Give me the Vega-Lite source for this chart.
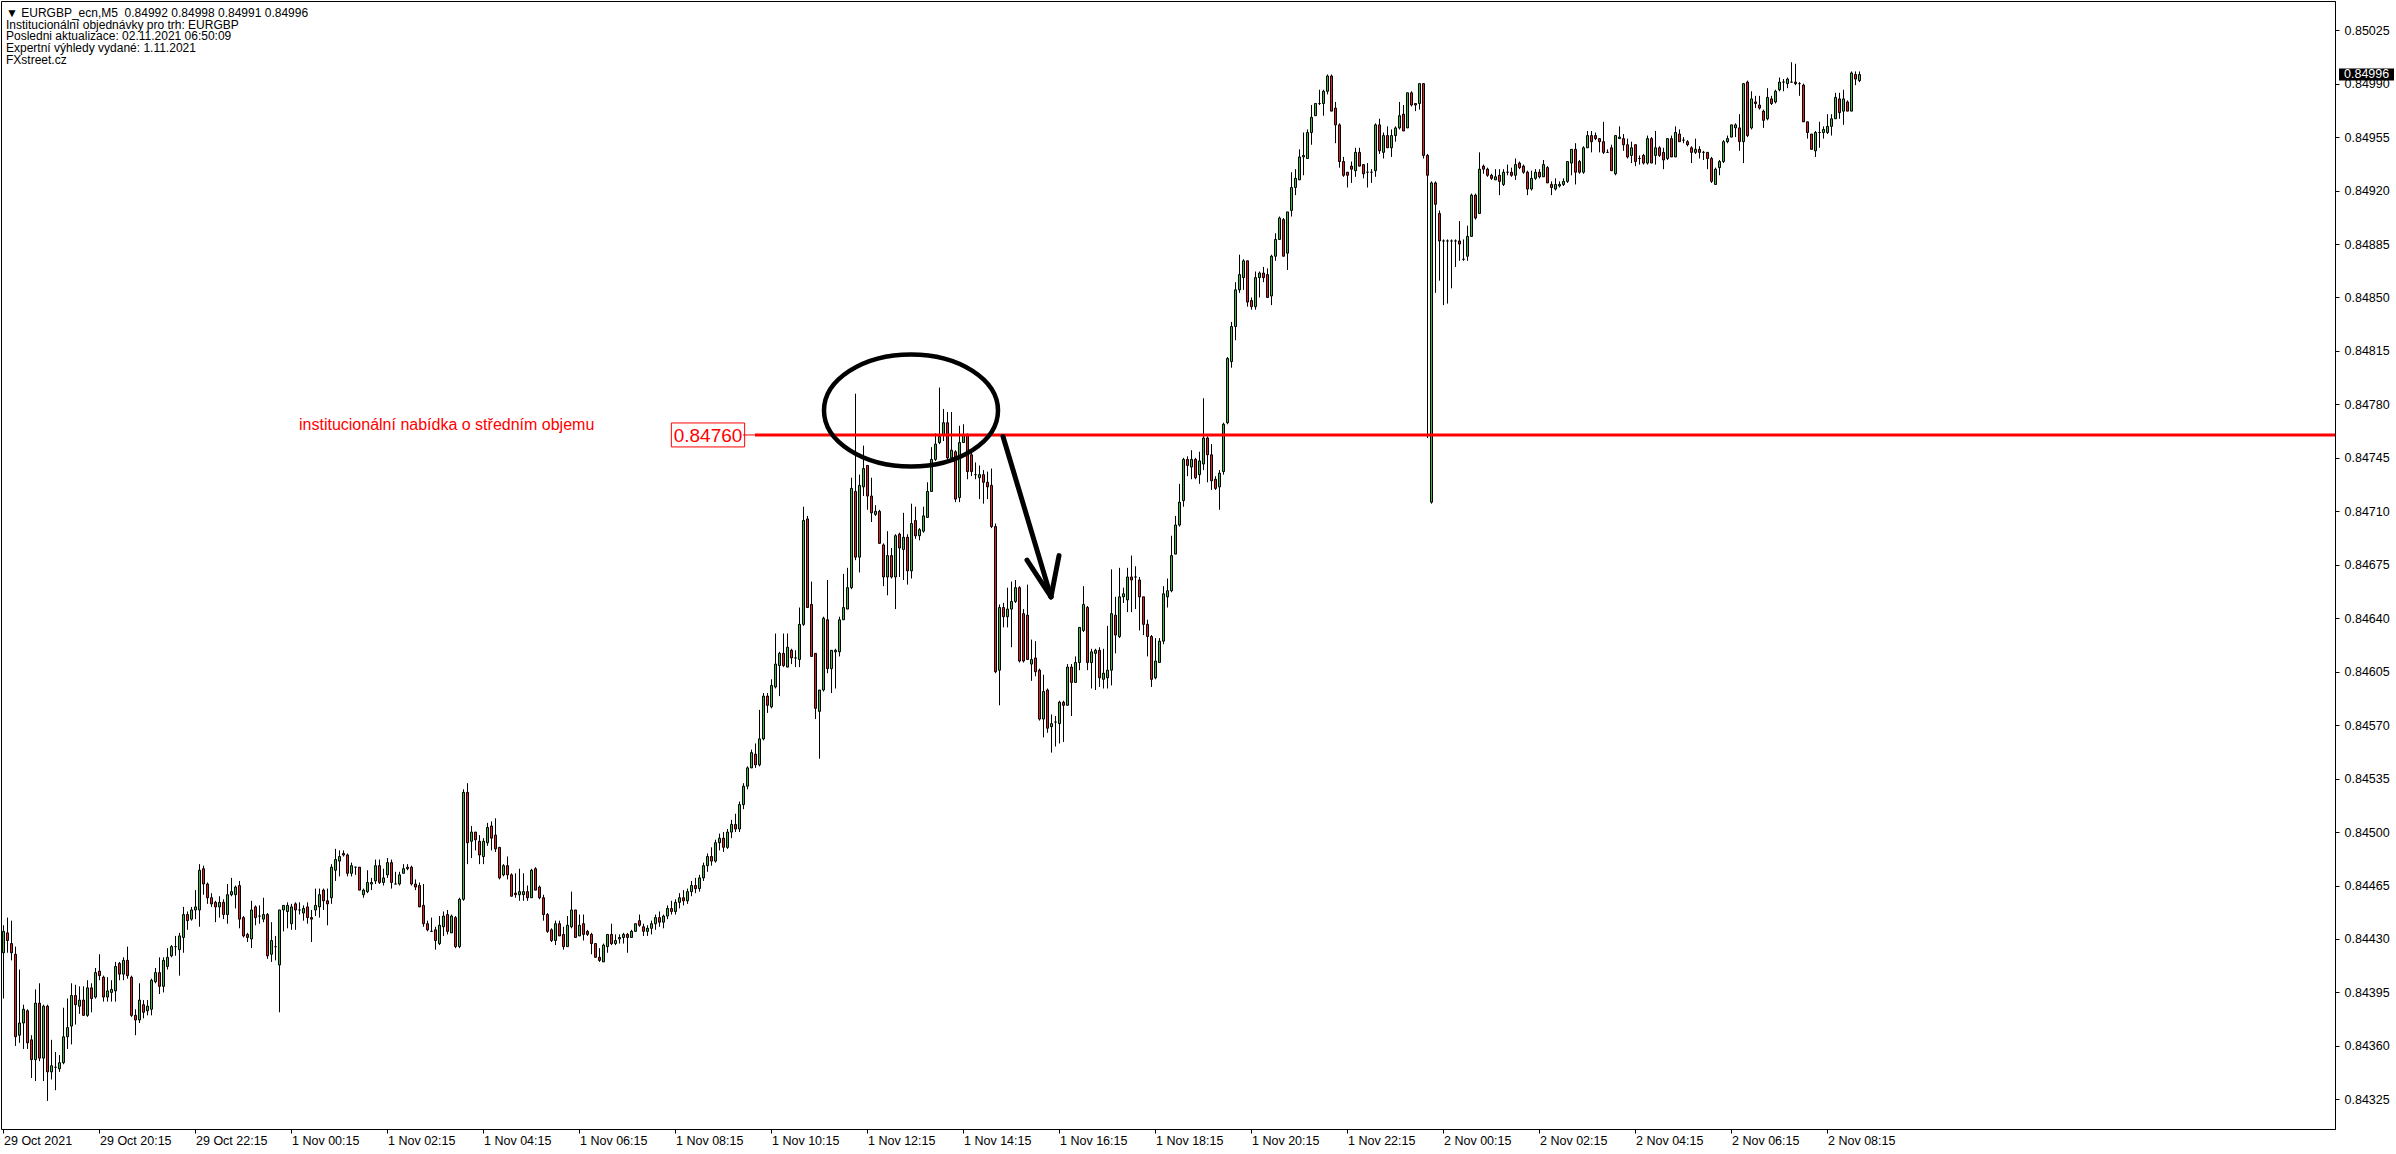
{
"$schema": "https://vega.github.io/schema/vega-lite/v6.json",
"width": 2334, "height": 1128, "autosize": "none",
"padding": {"left": 1, "top": 1, "right": 61, "bottom": 25},
"background": "white",
"config": {"view": {"stroke": "black", "strokeWidth": 1}},
"title": {"text": ["▼ EURGBP_ecn,M5\u00a0 0.84992 0.84998 0.84991 0.84996", "Institucionální objednávky pro trh: EURGBP", "Posledni aktualizace: 02.11.2021 06:50:09", "Expertní výhledy vydané: 1.11.2021", "FXstreet.cz"], "anchor": "start", "frame": "group", "orient": "top", "baseline": "top", "offset": -66, "dx": 5, "font": "Liberation Sans", "fontSize": 12, "fontWeight": "normal", "color": "black", "lineHeight": 11.8},
"datasets": {
"candles": [
{"t":"10-29 18:15","o":0.84421,"h":0.84439,"l":0.84391,"c":0.84435},
{"t":"10-29 18:20","o":0.84434,"h":0.84444,"l":0.84421,"c":0.84429},
{"t":"10-29 18:25","o":0.84427,"h":0.84442,"l":0.84416,"c":0.84421},
{"t":"10-29 18:30","o":0.84420,"h":0.84425,"l":0.84360,"c":0.84366},
{"t":"10-29 18:35","o":0.84367,"h":0.84410,"l":0.84362,"c":0.84375},
{"t":"10-29 18:40","o":0.84375,"h":0.84387,"l":0.84358,"c":0.84384},
{"t":"10-29 18:45","o":0.84383,"h":0.84384,"l":0.84358,"c":0.84362},
{"t":"10-29 18:50","o":0.84364,"h":0.84367,"l":0.84339,"c":0.84351},
{"t":"10-29 18:55","o":0.84351,"h":0.84397,"l":0.84337,"c":0.84388},
{"t":"10-29 19:00","o":0.84388,"h":0.84401,"l":0.84350,"c":0.84352},
{"t":"10-29 19:05","o":0.84352,"h":0.84387,"l":0.84337,"c":0.84386},
{"t":"10-29 19:10","o":0.84386,"h":0.84387,"l":0.84324,"c":0.84343},
{"t":"10-29 19:15","o":0.84343,"h":0.84364,"l":0.84338,"c":0.84347},
{"t":"10-29 19:20","o":0.84346,"h":0.84356,"l":0.84331,"c":0.84346},
{"t":"10-29 19:25","o":0.84345,"h":0.84354,"l":0.84343,"c":0.84349},
{"t":"10-29 19:30","o":0.84349,"h":0.84385,"l":0.84348,"c":0.84366},
{"t":"10-29 19:35","o":0.84366,"h":0.84391,"l":0.84358,"c":0.84372},
{"t":"10-29 19:40","o":0.84373,"h":0.84401,"l":0.84361,"c":0.84393},
{"t":"10-29 19:45","o":0.84393,"h":0.84400,"l":0.84374,"c":0.84387},
{"t":"10-29 19:50","o":0.84386,"h":0.84399,"l":0.84381,"c":0.84390},
{"t":"10-29 19:55","o":0.84390,"h":0.84399,"l":0.84380,"c":0.84380},
{"t":"10-29 20:00","o":0.84380,"h":0.84403,"l":0.84379,"c":0.84398},
{"t":"10-29 20:05","o":0.84398,"h":0.84401,"l":0.84382,"c":0.84391},
{"t":"10-29 20:10","o":0.84392,"h":0.84411,"l":0.84391,"c":0.84408},
{"t":"10-29 20:15","o":0.84409,"h":0.84420,"l":0.84403,"c":0.84406},
{"t":"10-29 20:20","o":0.84405,"h":0.84406,"l":0.84389,"c":0.84392},
{"t":"10-29 20:25","o":0.84392,"h":0.84405,"l":0.84389,"c":0.84396},
{"t":"10-29 20:30","o":0.84395,"h":0.84403,"l":0.84389,"c":0.84397},
{"t":"10-29 20:35","o":0.84396,"h":0.84415,"l":0.84389,"c":0.84412},
{"t":"10-29 20:40","o":0.84414,"h":0.84415,"l":0.84403,"c":0.84407},
{"t":"10-29 20:45","o":0.84407,"h":0.84418,"l":0.84403,"c":0.84416},
{"t":"10-29 20:50","o":0.84416,"h":0.84425,"l":0.84404,"c":0.84406},
{"t":"10-29 20:55","o":0.84405,"h":0.84406,"l":0.84379,"c":0.84380},
{"t":"10-29 21:00","o":0.84380,"h":0.84384,"l":0.84367,"c":0.84377},
{"t":"10-29 21:05","o":0.84377,"h":0.84401,"l":0.84375,"c":0.84390},
{"t":"10-29 21:10","o":0.84387,"h":0.84390,"l":0.84378,"c":0.84382},
{"t":"10-29 21:15","o":0.84383,"h":0.84390,"l":0.84380,"c":0.84386},
{"t":"10-29 21:20","o":0.84384,"h":0.84404,"l":0.84380,"c":0.84403},
{"t":"10-29 21:25","o":0.84402,"h":0.84411,"l":0.84401,"c":0.84408},
{"t":"10-29 21:30","o":0.84408,"h":0.84418,"l":0.84394,"c":0.84399},
{"t":"10-29 21:35","o":0.84399,"h":0.84418,"l":0.84395,"c":0.84416},
{"t":"10-29 21:40","o":0.84412,"h":0.84424,"l":0.84410,"c":0.84418},
{"t":"10-29 21:45","o":0.84419,"h":0.84426,"l":0.84418,"c":0.84425},
{"t":"10-29 21:50","o":0.84425,"h":0.84432,"l":0.84419,"c":0.84425},
{"t":"10-29 21:55","o":0.84423,"h":0.84434,"l":0.84406,"c":0.84432},
{"t":"10-29 22:00","o":0.84431,"h":0.84451,"l":0.84421,"c":0.84446},
{"t":"10-29 22:05","o":0.84446,"h":0.84448,"l":0.84436,"c":0.84442},
{"t":"10-29 22:10","o":0.84443,"h":0.84451,"l":0.84442,"c":0.84449},
{"t":"10-29 22:15","o":0.84449,"h":0.84462,"l":0.84443,"c":0.84451},
{"t":"10-29 22:20","o":0.84449,"h":0.84479,"l":0.84438,"c":0.84475},
{"t":"10-29 22:25","o":0.84476,"h":0.84478,"l":0.84459,"c":0.84466},
{"t":"10-29 22:30","o":0.84466,"h":0.84467,"l":0.84453,"c":0.84457},
{"t":"10-29 22:35","o":0.84457,"h":0.84460,"l":0.84451,"c":0.84453},
{"t":"10-29 22:40","o":0.84454,"h":0.84455,"l":0.84441,"c":0.84451},
{"t":"10-29 22:45","o":0.84451,"h":0.84458,"l":0.84444,"c":0.84454},
{"t":"10-29 22:50","o":0.84454,"h":0.84456,"l":0.84443,"c":0.84446},
{"t":"10-29 22:55","o":0.84446,"h":0.84466,"l":0.84440,"c":0.84459},
{"t":"10-29 23:00","o":0.84459,"h":0.84470,"l":0.84458,"c":0.84461},
{"t":"10-29 23:05","o":0.84459,"h":0.84465,"l":0.84450,"c":0.84464},
{"t":"10-29 23:10","o":0.84465,"h":0.84468,"l":0.84437,"c":0.84443},
{"t":"10-29 23:15","o":0.84444,"h":0.84445,"l":0.84431,"c":0.84432},
{"t":"10-29 23:20","o":0.84433,"h":0.84434,"l":0.84428,"c":0.84431},
{"t":"10-29 23:25","o":0.84430,"h":0.84455,"l":0.84424,"c":0.84449},
{"t":"10-29 23:30","o":0.84451,"h":0.84452,"l":0.84439,"c":0.84444},
{"t":"10-29 23:35","o":0.84445,"h":0.84452,"l":0.84440,"c":0.84445},
{"t":"10-29 23:40","o":0.84443,"h":0.84457,"l":0.84441,"c":0.84446},
{"t":"10-29 23:45","o":0.84446,"h":0.84447,"l":0.84417,"c":0.84419},
{"t":"10-29 23:50","o":0.84420,"h":0.84441,"l":0.84415,"c":0.84429},
{"t":"10-29 23:55","o":0.84425,"h":0.84432,"l":0.84416,"c":0.84425},
{"t":"11-01 00:00","o":0.84413,"h":0.84449,"l":0.84382,"c":0.84449},
{"t":"11-01 00:05","o":0.84449,"h":0.84452,"l":0.84435,"c":0.84452},
{"t":"11-01 00:10","o":0.84448,"h":0.84454,"l":0.84437,"c":0.84452},
{"t":"11-01 00:15","o":0.84440,"h":0.84453,"l":0.84436,"c":0.84451},
{"t":"11-01 00:20","o":0.84453,"h":0.84454,"l":0.84436,"c":0.84449},
{"t":"11-01 00:25","o":0.84449,"h":0.84454,"l":0.84446,"c":0.84449},
{"t":"11-01 00:30","o":0.84447,"h":0.84452,"l":0.84442,"c":0.84450},
{"t":"11-01 00:35","o":0.84451,"h":0.84454,"l":0.84440,"c":0.84444},
{"t":"11-01 00:40","o":0.84444,"h":0.84449,"l":0.84428,"c":0.84443},
{"t":"11-01 00:45","o":0.84449,"h":0.84463,"l":0.84445,"c":0.84452},
{"t":"11-01 00:50","o":0.84451,"h":0.84463,"l":0.84444,"c":0.84459},
{"t":"11-01 00:55","o":0.84462,"h":0.84463,"l":0.84449,"c":0.84455},
{"t":"11-01 01:00","o":0.84455,"h":0.84463,"l":0.84439,"c":0.84453},
{"t":"11-01 01:05","o":0.84457,"h":0.84479,"l":0.84453,"c":0.84477},
{"t":"11-01 01:10","o":0.84475,"h":0.84489,"l":0.84468,"c":0.84482},
{"t":"11-01 01:15","o":0.84481,"h":0.84488,"l":0.84471,"c":0.84484},
{"t":"11-01 01:20","o":0.84486,"h":0.84488,"l":0.84484,"c":0.84485},
{"t":"11-01 01:25","o":0.84485,"h":0.84486,"l":0.84471,"c":0.84473},
{"t":"11-01 01:30","o":0.84473,"h":0.84480,"l":0.84471,"c":0.84478},
{"t":"11-01 01:35","o":0.84477,"h":0.84477,"l":0.84472,"c":0.84477},
{"t":"11-01 01:40","o":0.84477,"h":0.84477,"l":0.84462,"c":0.84462},
{"t":"11-01 01:45","o":0.84459,"h":0.84463,"l":0.84457,"c":0.84462},
{"t":"11-01 01:50","o":0.84461,"h":0.84475,"l":0.84460,"c":0.84467},
{"t":"11-01 01:55","o":0.84466,"h":0.84470,"l":0.84462,"c":0.84467},
{"t":"11-01 02:00","o":0.84468,"h":0.84482,"l":0.84466,"c":0.84478},
{"t":"11-01 02:05","o":0.84478,"h":0.84482,"l":0.84466,"c":0.84467},
{"t":"11-01 02:10","o":0.84467,"h":0.84476,"l":0.84465,"c":0.84470},
{"t":"11-01 02:15","o":0.84472,"h":0.84483,"l":0.84470,"c":0.84480},
{"t":"11-01 02:20","o":0.84480,"h":0.84482,"l":0.84463,"c":0.84467},
{"t":"11-01 02:25","o":0.84466,"h":0.84474,"l":0.84466,"c":0.84466},
{"t":"11-01 02:30","o":0.84466,"h":0.84474,"l":0.84465,"c":0.84472},
{"t":"11-01 02:35","o":0.84473,"h":0.84479,"l":0.84473,"c":0.84476},
{"t":"11-01 02:40","o":0.84476,"h":0.84479,"l":0.84475,"c":0.84477},
{"t":"11-01 02:45","o":0.84477,"h":0.84478,"l":0.84465,"c":0.84466},
{"t":"11-01 02:50","o":0.84466,"h":0.84469,"l":0.84462,"c":0.84464},
{"t":"11-01 02:55","o":0.84465,"h":0.84467,"l":0.84451,"c":0.84451},
{"t":"11-01 03:00","o":0.84452,"h":0.84466,"l":0.84438,"c":0.84440},
{"t":"11-01 03:05","o":0.84440,"h":0.84442,"l":0.84435,"c":0.84436},
{"t":"11-01 03:10","o":0.84435,"h":0.84444,"l":0.84435,"c":0.84435},
{"t":"11-01 03:15","o":0.84436,"h":0.84438,"l":0.84423,"c":0.84429},
{"t":"11-01 03:20","o":0.84427,"h":0.84445,"l":0.84426,"c":0.84439},
{"t":"11-01 03:25","o":0.84438,"h":0.84448,"l":0.84432,"c":0.84445},
{"t":"11-01 03:30","o":0.84446,"h":0.84449,"l":0.84433,"c":0.84435},
{"t":"11-01 03:35","o":0.84434,"h":0.84446,"l":0.84434,"c":0.84445},
{"t":"11-01 03:40","o":0.84444,"h":0.84445,"l":0.84424,"c":0.84425},
{"t":"11-01 03:45","o":0.84425,"h":0.84457,"l":0.84424,"c":0.84456},
{"t":"11-01 03:50","o":0.84456,"h":0.84528,"l":0.84455,"c":0.84526},
{"t":"11-01 03:55","o":0.84526,"h":0.84532,"l":0.84479,"c":0.84493},
{"t":"11-01 04:00","o":0.84494,"h":0.84504,"l":0.84483,"c":0.84500},
{"t":"11-01 04:05","o":0.84500,"h":0.84500,"l":0.84488,"c":0.84495},
{"t":"11-01 04:10","o":0.84494,"h":0.84498,"l":0.84479,"c":0.84485},
{"t":"11-01 04:15","o":0.84484,"h":0.84496,"l":0.84479,"c":0.84494},
{"t":"11-01 04:20","o":0.84493,"h":0.84506,"l":0.84491,"c":0.84503},
{"t":"11-01 04:25","o":0.84504,"h":0.84507,"l":0.84488,"c":0.84496},
{"t":"11-01 04:30","o":0.84498,"h":0.84509,"l":0.84487,"c":0.84489},
{"t":"11-01 04:35","o":0.84490,"h":0.84490,"l":0.84469,"c":0.84470},
{"t":"11-01 04:40","o":0.84472,"h":0.84479,"l":0.84471,"c":0.84478},
{"t":"11-01 04:45","o":0.84478,"h":0.84484,"l":0.84469,"c":0.84472},
{"t":"11-01 04:50","o":0.84472,"h":0.84473,"l":0.84458,"c":0.84458},
{"t":"11-01 04:55","o":0.84460,"h":0.84473,"l":0.84457,"c":0.84459},
{"t":"11-01 05:00","o":0.84459,"h":0.84476,"l":0.84455,"c":0.84461},
{"t":"11-01 05:05","o":0.84459,"h":0.84473,"l":0.84455,"c":0.84461},
{"t":"11-01 05:10","o":0.84461,"h":0.84465,"l":0.84455,"c":0.84457},
{"t":"11-01 05:15","o":0.84457,"h":0.84476,"l":0.84457,"c":0.84475},
{"t":"11-01 05:20","o":0.84476,"h":0.84477,"l":0.84462,"c":0.84462},
{"t":"11-01 05:25","o":0.84464,"h":0.84465,"l":0.84456,"c":0.84457},
{"t":"11-01 05:30","o":0.84457,"h":0.84459,"l":0.84442,"c":0.84446},
{"t":"11-01 05:35","o":0.84446,"h":0.84447,"l":0.84434,"c":0.84435},
{"t":"11-01 05:40","o":0.84436,"h":0.84437,"l":0.84428,"c":0.84429},
{"t":"11-01 05:45","o":0.84429,"h":0.84442,"l":0.84426,"c":0.84440},
{"t":"11-01 05:50","o":0.84440,"h":0.84442,"l":0.84432,"c":0.84432},
{"t":"11-01 05:55","o":0.84433,"h":0.84438,"l":0.84423,"c":0.84425},
{"t":"11-01 06:00","o":0.84425,"h":0.84445,"l":0.84425,"c":0.84439},
{"t":"11-01 06:05","o":0.84438,"h":0.84461,"l":0.84437,"c":0.84449},
{"t":"11-01 06:10","o":0.84449,"h":0.84449,"l":0.84431,"c":0.84431},
{"t":"11-01 06:15","o":0.84432,"h":0.84446,"l":0.84432,"c":0.84439},
{"t":"11-01 06:20","o":0.84440,"h":0.84446,"l":0.84429,"c":0.84433},
{"t":"11-01 06:25","o":0.84435,"h":0.84436,"l":0.84432,"c":0.84433},
{"t":"11-01 06:30","o":0.84433,"h":0.84434,"l":0.84420,"c":0.84427},
{"t":"11-01 06:35","o":0.84427,"h":0.84427,"l":0.84418,"c":0.84418},
{"t":"11-01 06:40","o":0.84418,"h":0.84424,"l":0.84415,"c":0.84416},
{"t":"11-01 06:45","o":0.84415,"h":0.84427,"l":0.84415,"c":0.84426},
{"t":"11-01 06:50","o":0.84425,"h":0.84433,"l":0.84421,"c":0.84433},
{"t":"11-01 06:55","o":0.84433,"h":0.84440,"l":0.84426,"c":0.84427},
{"t":"11-01 07:00","o":0.84427,"h":0.84433,"l":0.84426,"c":0.84429},
{"t":"11-01 07:05","o":0.84430,"h":0.84433,"l":0.84427,"c":0.84431},
{"t":"11-01 07:10","o":0.84431,"h":0.84434,"l":0.84427,"c":0.84433},
{"t":"11-01 07:15","o":0.84433,"h":0.84434,"l":0.84421,"c":0.84431},
{"t":"11-01 07:20","o":0.84431,"h":0.84436,"l":0.84431,"c":0.84435},
{"t":"11-01 07:25","o":0.84435,"h":0.84440,"l":0.84435,"c":0.84440},
{"t":"11-01 07:30","o":0.84442,"h":0.84446,"l":0.84438,"c":0.84439},
{"t":"11-01 07:35","o":0.84438,"h":0.84440,"l":0.84432,"c":0.84435},
{"t":"11-01 07:40","o":0.84435,"h":0.84439,"l":0.84432,"c":0.84437},
{"t":"11-01 07:45","o":0.84437,"h":0.84442,"l":0.84433,"c":0.84440},
{"t":"11-01 07:50","o":0.84440,"h":0.84446,"l":0.84436,"c":0.84444},
{"t":"11-01 07:55","o":0.84444,"h":0.84448,"l":0.84438,"c":0.84441},
{"t":"11-01 08:00","o":0.84441,"h":0.84446,"l":0.84437,"c":0.84445},
{"t":"11-01 08:05","o":0.84445,"h":0.84452,"l":0.84443,"c":0.84450},
{"t":"11-01 08:10","o":0.84450,"h":0.84455,"l":0.84446,"c":0.84448},
{"t":"11-01 08:15","o":0.84448,"h":0.84456,"l":0.84446,"c":0.84454},
{"t":"11-01 08:20","o":0.84454,"h":0.84460,"l":0.84450,"c":0.84457},
{"t":"11-01 08:25","o":0.84457,"h":0.84462,"l":0.84452,"c":0.84455},
{"t":"11-01 08:30","o":0.84455,"h":0.84463,"l":0.84453,"c":0.84461},
{"t":"11-01 08:35","o":0.84461,"h":0.84468,"l":0.84458,"c":0.84465},
{"t":"11-01 08:40","o":0.84465,"h":0.84470,"l":0.84460,"c":0.84463},
{"t":"11-01 08:45","o":0.84463,"h":0.84472,"l":0.84461,"c":0.84470},
{"t":"11-01 08:50","o":0.84470,"h":0.84480,"l":0.84468,"c":0.84478},
{"t":"11-01 08:55","o":0.84478,"h":0.84486,"l":0.84474,"c":0.84484},
{"t":"11-01 09:00","o":0.84484,"h":0.84490,"l":0.84478,"c":0.84481},
{"t":"11-01 09:05","o":0.84481,"h":0.84495,"l":0.84480,"c":0.84493},
{"t":"11-01 09:10","o":0.84493,"h":0.84499,"l":0.84488,"c":0.84496},
{"t":"11-01 09:15","o":0.84496,"h":0.84500,"l":0.84487,"c":0.84490},
{"t":"11-01 09:20","o":0.84490,"h":0.84502,"l":0.84489,"c":0.84500},
{"t":"11-01 09:25","o":0.84500,"h":0.84508,"l":0.84496,"c":0.84505},
{"t":"11-01 09:30","o":0.84505,"h":0.84512,"l":0.84500,"c":0.84502},
{"t":"11-01 09:35","o":0.84502,"h":0.84520,"l":0.84500,"c":0.84518},
{"t":"11-01 09:40","o":0.84518,"h":0.84532,"l":0.84515,"c":0.84530},
{"t":"11-01 09:45","o":0.84530,"h":0.84543,"l":0.84528,"c":0.84542},
{"t":"11-01 09:50","o":0.84542,"h":0.84554,"l":0.84542,"c":0.84552},
{"t":"11-01 09:55","o":0.84551,"h":0.84558,"l":0.84542,"c":0.84544},
{"t":"11-01 10:00","o":0.84544,"h":0.84580,"l":0.84543,"c":0.84561},
{"t":"11-01 10:05","o":0.84561,"h":0.84591,"l":0.84560,"c":0.84589},
{"t":"11-01 10:10","o":0.84589,"h":0.84591,"l":0.84578,"c":0.84583},
{"t":"11-01 10:15","o":0.84582,"h":0.84600,"l":0.84581,"c":0.84596},
{"t":"11-01 10:20","o":0.84595,"h":0.84630,"l":0.84594,"c":0.84610},
{"t":"11-01 10:25","o":0.84609,"h":0.84618,"l":0.84589,"c":0.84617},
{"t":"11-01 10:30","o":0.84617,"h":0.84630,"l":0.84608,"c":0.84609},
{"t":"11-01 10:35","o":0.84608,"h":0.84630,"l":0.84608,"c":0.84621},
{"t":"11-01 10:40","o":0.84619,"h":0.84620,"l":0.84610,"c":0.84614},
{"t":"11-01 10:45","o":0.84614,"h":0.84619,"l":0.84608,"c":0.84614},
{"t":"11-01 10:50","o":0.84613,"h":0.84647,"l":0.84608,"c":0.84636},
{"t":"11-01 10:55","o":0.84636,"h":0.84713,"l":0.84635,"c":0.84704},
{"t":"11-01 11:00","o":0.84705,"h":0.84707,"l":0.84647,"c":0.84647},
{"t":"11-01 11:05","o":0.84649,"h":0.84664,"l":0.84615,"c":0.84615},
{"t":"11-01 11:10","o":0.84617,"h":0.84617,"l":0.84574,"c":0.84581},
{"t":"11-01 11:15","o":0.84579,"h":0.84593,"l":0.84548,"c":0.84593},
{"t":"11-01 11:20","o":0.84593,"h":0.84641,"l":0.84592,"c":0.84640},
{"t":"11-01 11:25","o":0.84639,"h":0.84665,"l":0.84604,"c":0.84607},
{"t":"11-01 11:30","o":0.84607,"h":0.84619,"l":0.84591,"c":0.84619},
{"t":"11-01 11:35","o":0.84618,"h":0.84620,"l":0.84594,"c":0.84619},
{"t":"11-01 11:40","o":0.84618,"h":0.84641,"l":0.84615,"c":0.84639},
{"t":"11-01 11:45","o":0.84639,"h":0.84669,"l":0.84639,"c":0.84647},
{"t":"11-01 11:50","o":0.84646,"h":0.84673,"l":0.84646,"c":0.84660},
{"t":"11-01 11:55","o":0.84660,"h":0.84732,"l":0.84659,"c":0.84725},
{"t":"11-01 12:00","o":0.84723,"h":0.84787,"l":0.84678,"c":0.84680},
{"t":"11-01 12:05","o":0.84680,"h":0.84734,"l":0.84670,"c":0.84727},
{"t":"11-01 12:10","o":0.84726,"h":0.84753,"l":0.84720,"c":0.84738},
{"t":"11-01 12:15","o":0.84740,"h":0.84740,"l":0.84711,"c":0.84720},
{"t":"11-01 12:20","o":0.84720,"h":0.84732,"l":0.84703,"c":0.84709},
{"t":"11-01 12:25","o":0.84708,"h":0.84714,"l":0.84707,"c":0.84710},
{"t":"11-01 12:30","o":0.84710,"h":0.84711,"l":0.84689,"c":0.84689},
{"t":"11-01 12:35","o":0.84688,"h":0.84689,"l":0.84661,"c":0.84667},
{"t":"11-01 12:40","o":0.84667,"h":0.84697,"l":0.84655,"c":0.84681},
{"t":"11-01 12:45","o":0.84681,"h":0.84686,"l":0.84666,"c":0.84667},
{"t":"11-01 12:50","o":0.84667,"h":0.84695,"l":0.84646,"c":0.84694},
{"t":"11-01 12:55","o":0.84695,"h":0.84696,"l":0.84667,"c":0.84686},
{"t":"11-01 13:00","o":0.84685,"h":0.84709,"l":0.84665,"c":0.84693},
{"t":"11-01 13:05","o":0.84693,"h":0.84695,"l":0.84662,"c":0.84671},
{"t":"11-01 13:10","o":0.84671,"h":0.84715,"l":0.84666,"c":0.84702},
{"t":"11-01 13:15","o":0.84704,"h":0.84713,"l":0.84692,"c":0.84694},
{"t":"11-01 13:20","o":0.84694,"h":0.84699,"l":0.84691,"c":0.84698},
{"t":"11-01 13:25","o":0.84697,"h":0.84713,"l":0.84696,"c":0.84707},
{"t":"11-01 13:30","o":0.84706,"h":0.84729,"l":0.84706,"c":0.84723},
{"t":"11-01 13:35","o":0.84723,"h":0.84752,"l":0.84723,"c":0.84744},
{"t":"11-01 13:40","o":0.84744,"h":0.84761,"l":0.84743,"c":0.84754},
{"t":"11-01 13:45","o":0.84755,"h":0.84791,"l":0.84754,"c":0.84759},
{"t":"11-01 13:50","o":0.84760,"h":0.84777,"l":0.84756,"c":0.84768},
{"t":"11-01 13:55","o":0.84768,"h":0.84775,"l":0.84744,"c":0.84745},
{"t":"11-01 14:00","o":0.84745,"h":0.84775,"l":0.84745,"c":0.84750},
{"t":"11-01 14:05","o":0.84749,"h":0.84750,"l":0.84716,"c":0.84718},
{"t":"11-01 14:10","o":0.84719,"h":0.84766,"l":0.84716,"c":0.84755},
{"t":"11-01 14:15","o":0.84755,"h":0.84767,"l":0.84755,"c":0.84760},
{"t":"11-01 14:20","o":0.84760,"h":0.84761,"l":0.84731,"c":0.84736},
{"t":"11-01 14:25","o":0.84747,"h":0.84749,"l":0.84733,"c":0.84736},
{"t":"11-01 14:30","o":0.84734,"h":0.84742,"l":0.84731,"c":0.84734},
{"t":"11-01 14:35","o":0.84732,"h":0.84740,"l":0.84718,"c":0.84734},
{"t":"11-01 14:40","o":0.84734,"h":0.84737,"l":0.84715,"c":0.84729},
{"t":"11-01 14:45","o":0.84729,"h":0.84736,"l":0.84718,"c":0.84726},
{"t":"11-01 14:50","o":0.84727,"h":0.84738,"l":0.84699,"c":0.84700},
{"t":"11-01 14:55","o":0.84700,"h":0.84702,"l":0.84604,"c":0.84605},
{"t":"11-01 15:00","o":0.84606,"h":0.84649,"l":0.84583,"c":0.84647},
{"t":"11-01 15:05","o":0.84647,"h":0.84650,"l":0.84634,"c":0.84641},
{"t":"11-01 15:10","o":0.84641,"h":0.84660,"l":0.84634,"c":0.84646},
{"t":"11-01 15:15","o":0.84646,"h":0.84664,"l":0.84621,"c":0.84651},
{"t":"11-01 15:20","o":0.84651,"h":0.84665,"l":0.84650,"c":0.84660},
{"t":"11-01 15:25","o":0.84660,"h":0.84661,"l":0.84611,"c":0.84612},
{"t":"11-01 15:30","o":0.84643,"h":0.84646,"l":0.84611,"c":0.84612},
{"t":"11-01 15:35","o":0.84642,"h":0.84662,"l":0.84613,"c":0.84613},
{"t":"11-01 15:40","o":0.84610,"h":0.84626,"l":0.84599,"c":0.84613},
{"t":"11-01 15:45","o":0.84614,"h":0.84625,"l":0.84602,"c":0.84605},
{"t":"11-01 15:50","o":0.84606,"h":0.84607,"l":0.84573,"c":0.84574},
{"t":"11-01 15:55","o":0.84574,"h":0.84603,"l":0.84562,"c":0.84592},
{"t":"11-01 16:00","o":0.84593,"h":0.84594,"l":0.84565,"c":0.84568},
{"t":"11-01 16:05","o":0.84569,"h":0.84577,"l":0.84552,"c":0.84571},
{"t":"11-01 16:10","o":0.84572,"h":0.84576,"l":0.84556,"c":0.84572},
{"t":"11-01 16:15","o":0.84571,"h":0.84586,"l":0.84558,"c":0.84585},
{"t":"11-01 16:20","o":0.84585,"h":0.84586,"l":0.84559,"c":0.84583},
{"t":"11-01 16:25","o":0.84583,"h":0.84610,"l":0.84583,"c":0.84608},
{"t":"11-01 16:30","o":0.84608,"h":0.84610,"l":0.84576,"c":0.84598},
{"t":"11-01 16:35","o":0.84598,"h":0.84615,"l":0.84598,"c":0.84611},
{"t":"11-01 16:40","o":0.84611,"h":0.84634,"l":0.84606,"c":0.84634},
{"t":"11-01 16:45","o":0.84632,"h":0.84661,"l":0.84631,"c":0.84649},
{"t":"11-01 16:50","o":0.84647,"h":0.84648,"l":0.84606,"c":0.84611},
{"t":"11-01 16:55","o":0.84611,"h":0.84620,"l":0.84594,"c":0.84618},
{"t":"11-01 17:00","o":0.84617,"h":0.84620,"l":0.84593,"c":0.84619},
{"t":"11-01 17:05","o":0.84619,"h":0.84621,"l":0.84595,"c":0.84601},
{"t":"11-01 17:10","o":0.84600,"h":0.84620,"l":0.84594,"c":0.84604},
{"t":"11-01 17:15","o":0.84601,"h":0.84635,"l":0.84594,"c":0.84606},
{"t":"11-01 17:20","o":0.84606,"h":0.84672,"l":0.84596,"c":0.84643},
{"t":"11-01 17:25","o":0.84642,"h":0.84654,"l":0.84617,"c":0.84629},
{"t":"11-01 17:30","o":0.84628,"h":0.84673,"l":0.84627,"c":0.84654},
{"t":"11-01 17:35","o":0.84654,"h":0.84660,"l":0.84650,"c":0.84656},
{"t":"11-01 17:40","o":0.84652,"h":0.84673,"l":0.84644,"c":0.84667},
{"t":"11-01 17:45","o":0.84667,"h":0.84681,"l":0.84644,"c":0.84665},
{"t":"11-01 17:50","o":0.84667,"h":0.84674,"l":0.84646,"c":0.84667},
{"t":"11-01 17:55","o":0.84665,"h":0.84667,"l":0.84632,"c":0.84654},
{"t":"11-01 18:00","o":0.84654,"h":0.84654,"l":0.84629,"c":0.84636},
{"t":"11-01 18:05","o":0.84636,"h":0.84639,"l":0.84615,"c":0.84628},
{"t":"11-01 18:10","o":0.84628,"h":0.84629,"l":0.84595,"c":0.84600},
{"t":"11-01 18:15","o":0.84601,"h":0.84627,"l":0.84600,"c":0.84612},
{"t":"11-01 18:20","o":0.84611,"h":0.84627,"l":0.84611,"c":0.84625},
{"t":"11-01 18:25","o":0.84625,"h":0.84661,"l":0.84623,"c":0.84656},
{"t":"11-01 18:30","o":0.84654,"h":0.84666,"l":0.84647,"c":0.84658},
{"t":"11-01 18:35","o":0.84658,"h":0.84694,"l":0.84657,"c":0.84681},
{"t":"11-01 18:40","o":0.84682,"h":0.84707,"l":0.84682,"c":0.84701},
{"t":"11-01 18:45","o":0.84701,"h":0.84728,"l":0.84700,"c":0.84716},
{"t":"11-01 18:50","o":0.84717,"h":0.84745,"l":0.84713,"c":0.84744},
{"t":"11-01 18:55","o":0.84744,"h":0.84746,"l":0.84733,"c":0.84740},
{"t":"11-01 19:00","o":0.84739,"h":0.84750,"l":0.84731,"c":0.84744},
{"t":"11-01 19:05","o":0.84744,"h":0.84745,"l":0.84731,"c":0.84732},
{"t":"11-01 19:10","o":0.84734,"h":0.84749,"l":0.84728,"c":0.84743},
{"t":"11-01 19:15","o":0.84741,"h":0.84784,"l":0.84737,"c":0.84758},
{"t":"11-01 19:20","o":0.84758,"h":0.84759,"l":0.84729,"c":0.84747},
{"t":"11-01 19:25","o":0.84747,"h":0.84754,"l":0.84724,"c":0.84730},
{"t":"11-01 19:30","o":0.84731,"h":0.84733,"l":0.84724,"c":0.84725},
{"t":"11-01 19:35","o":0.84726,"h":0.84737,"l":0.84711,"c":0.84735},
{"t":"11-01 19:40","o":0.84736,"h":0.84768,"l":0.84734,"c":0.84767},
{"t":"11-01 19:45","o":0.84768,"h":0.84811,"l":0.84767,"c":0.84810},
{"t":"11-01 19:50","o":0.84808,"h":0.84834,"l":0.84804,"c":0.84831},
{"t":"11-01 19:55","o":0.84831,"h":0.84860,"l":0.84822,"c":0.84855},
{"t":"11-01 20:00","o":0.84855,"h":0.84878,"l":0.84853,"c":0.84865},
{"t":"11-01 20:05","o":0.84863,"h":0.84875,"l":0.84855,"c":0.84874},
{"t":"11-01 20:10","o":0.84874,"h":0.84874,"l":0.84844,"c":0.84847},
{"t":"11-01 20:15","o":0.84848,"h":0.84850,"l":0.84842,"c":0.84844},
{"t":"11-01 20:20","o":0.84844,"h":0.84867,"l":0.84842,"c":0.84863},
{"t":"11-01 20:25","o":0.84863,"h":0.84867,"l":0.84850,"c":0.84866},
{"t":"11-01 20:30","o":0.84866,"h":0.84870,"l":0.84860,"c":0.84863},
{"t":"11-01 20:35","o":0.84865,"h":0.84869,"l":0.84850,"c":0.84850},
{"t":"11-01 20:40","o":0.84851,"h":0.84878,"l":0.84845,"c":0.84877},
{"t":"11-01 20:45","o":0.84877,"h":0.84892,"l":0.84874,"c":0.84888},
{"t":"11-01 20:50","o":0.84888,"h":0.84903,"l":0.84888,"c":0.84902},
{"t":"11-01 20:55","o":0.84901,"h":0.84902,"l":0.84877,"c":0.84877},
{"t":"11-01 21:00","o":0.84879,"h":0.84906,"l":0.84868,"c":0.84906},
{"t":"11-01 21:05","o":0.84907,"h":0.84932,"l":0.84903,"c":0.84922},
{"t":"11-01 21:10","o":0.84922,"h":0.84934,"l":0.84917,"c":0.84928},
{"t":"11-01 21:15","o":0.84927,"h":0.84947,"l":0.84927,"c":0.84942},
{"t":"11-01 21:20","o":0.84942,"h":0.84958,"l":0.84930,"c":0.84943},
{"t":"11-01 21:25","o":0.84941,"h":0.84960,"l":0.84941,"c":0.84958},
{"t":"11-01 21:30","o":0.84958,"h":0.84976,"l":0.84950,"c":0.84968},
{"t":"11-01 21:35","o":0.84969,"h":0.84977,"l":0.84969,"c":0.84977},
{"t":"11-01 21:40","o":0.84977,"h":0.84986,"l":0.84976,"c":0.84977},
{"t":"11-01 21:45","o":0.84977,"h":0.84986,"l":0.84969,"c":0.84985},
{"t":"11-01 21:50","o":0.84985,"h":0.84996,"l":0.84983,"c":0.84995},
{"t":"11-01 21:55","o":0.84995,"h":0.84996,"l":0.84972,"c":0.84972},
{"t":"11-01 22:00","o":0.84974,"h":0.84978,"l":0.84951,"c":0.84963},
{"t":"11-01 22:05","o":0.84963,"h":0.84964,"l":0.84935,"c":0.84939},
{"t":"11-01 22:10","o":0.84939,"h":0.84942,"l":0.84929,"c":0.84930},
{"t":"11-01 22:15","o":0.84932,"h":0.84932,"l":0.84922,"c":0.84930},
{"t":"11-01 22:20","o":0.84936,"h":0.84939,"l":0.84925,"c":0.84934},
{"t":"11-01 22:25","o":0.84933,"h":0.84948,"l":0.84929,"c":0.84945},
{"t":"11-01 22:30","o":0.84945,"h":0.84948,"l":0.84936,"c":0.84936},
{"t":"11-01 22:35","o":0.84937,"h":0.84937,"l":0.84928,"c":0.84931},
{"t":"11-01 22:40","o":0.84932,"h":0.84938,"l":0.84922,"c":0.84932},
{"t":"11-01 22:45","o":0.84932,"h":0.84934,"l":0.84925,"c":0.84932},
{"t":"11-01 22:50","o":0.84933,"h":0.84964,"l":0.84929,"c":0.84963},
{"t":"11-01 22:55","o":0.84963,"h":0.84967,"l":0.84944,"c":0.84946},
{"t":"11-01 23:00","o":0.84945,"h":0.84958,"l":0.84941,"c":0.84956},
{"t":"11-01 23:05","o":0.84956,"h":0.84962,"l":0.84948,"c":0.84948},
{"t":"11-01 23:10","o":0.84948,"h":0.84960,"l":0.84942,"c":0.84956},
{"t":"11-01 23:15","o":0.84956,"h":0.84962,"l":0.84952,"c":0.84961},
{"t":"11-01 23:20","o":0.84961,"h":0.84978,"l":0.84960,"c":0.84969},
{"t":"11-01 23:25","o":0.84970,"h":0.84976,"l":0.84959,"c":0.84959},
{"t":"11-01 23:30","o":0.84961,"h":0.84984,"l":0.84961,"c":0.84984},
{"t":"11-01 23:35","o":0.84984,"h":0.84985,"l":0.84975,"c":0.84976},
{"t":"11-01 23:40","o":0.84977,"h":0.84977,"l":0.84972,"c":0.84976},
{"t":"11-01 23:45","o":0.84977,"h":0.84990,"l":0.84973,"c":0.84990},
{"t":"11-01 23:50","o":0.84990,"h":0.84990,"l":0.84941,"c":0.84943},
{"t":"11-01 23:55","o":0.84943,"h":0.84944,"l":0.84758,"c":0.84930},
{"t":"11-02 00:00","o":0.84716,"h":0.84926,"l":0.84715,"c":0.84925},
{"t":"11-02 00:05","o":0.84925,"h":0.84926,"l":0.84853,"c":0.84911},
{"t":"11-02 00:10","o":0.84905,"h":0.84907,"l":0.84861,"c":0.84887},
{"t":"11-02 00:15","o":0.84887,"h":0.84888,"l":0.84845,"c":0.84887},
{"t":"11-02 00:20","o":0.84887,"h":0.84888,"l":0.84846,"c":0.84887},
{"t":"11-02 00:25","o":0.84887,"h":0.84888,"l":0.84856,"c":0.84887},
{"t":"11-02 00:30","o":0.84887,"h":0.84888,"l":0.84870,"c":0.84887},
{"t":"11-02 00:35","o":0.84887,"h":0.84900,"l":0.84874,"c":0.84885},
{"t":"11-02 00:40","o":0.84875,"h":0.84888,"l":0.84874,"c":0.84875},
{"t":"11-02 00:45","o":0.84877,"h":0.84897,"l":0.84874,"c":0.84890},
{"t":"11-02 00:50","o":0.84890,"h":0.84918,"l":0.84890,"c":0.84917},
{"t":"11-02 00:55","o":0.84917,"h":0.84918,"l":0.84901,"c":0.84902},
{"t":"11-02 01:00","o":0.84905,"h":0.84945,"l":0.84905,"c":0.84934},
{"t":"11-02 01:05","o":0.84936,"h":0.84937,"l":0.84931,"c":0.84934},
{"t":"11-02 01:10","o":0.84934,"h":0.84935,"l":0.84929,"c":0.84930},
{"t":"11-02 01:15","o":0.84930,"h":0.84931,"l":0.84927,"c":0.84928},
{"t":"11-02 01:20","o":0.84927,"h":0.84934,"l":0.84927,"c":0.84929},
{"t":"11-02 01:25","o":0.84930,"h":0.84934,"l":0.84917,"c":0.84926},
{"t":"11-02 01:30","o":0.84924,"h":0.84934,"l":0.84923,"c":0.84932},
{"t":"11-02 01:35","o":0.84932,"h":0.84937,"l":0.84930,"c":0.84932},
{"t":"11-02 01:40","o":0.84932,"h":0.84935,"l":0.84929,"c":0.84930},
{"t":"11-02 01:45","o":0.84930,"h":0.84941,"l":0.84927,"c":0.84937},
{"t":"11-02 01:50","o":0.84938,"h":0.84939,"l":0.84934,"c":0.84935},
{"t":"11-02 01:55","o":0.84936,"h":0.84937,"l":0.84931,"c":0.84932},
{"t":"11-02 02:00","o":0.84932,"h":0.84933,"l":0.84917,"c":0.84921},
{"t":"11-02 02:05","o":0.84921,"h":0.84933,"l":0.84920,"c":0.84928},
{"t":"11-02 02:10","o":0.84928,"h":0.84934,"l":0.84927,"c":0.84932},
{"t":"11-02 02:15","o":0.84932,"h":0.84934,"l":0.84928,"c":0.84929},
{"t":"11-02 02:20","o":0.84929,"h":0.84940,"l":0.84929,"c":0.84937},
{"t":"11-02 02:25","o":0.84935,"h":0.84936,"l":0.84925,"c":0.84925},
{"t":"11-02 02:30","o":0.84924,"h":0.84926,"l":0.84917,"c":0.84922},
{"t":"11-02 02:35","o":0.84921,"h":0.84928,"l":0.84920,"c":0.84924},
{"t":"11-02 02:40","o":0.84923,"h":0.84926,"l":0.84922,"c":0.84924},
{"t":"11-02 02:45","o":0.84924,"h":0.84928,"l":0.84923,"c":0.84926},
{"t":"11-02 02:50","o":0.84926,"h":0.84939,"l":0.84925,"c":0.84939},
{"t":"11-02 02:55","o":0.84938,"h":0.84947,"l":0.84930,"c":0.84947},
{"t":"11-02 03:00","o":0.84947,"h":0.84951,"l":0.84924,"c":0.84932},
{"t":"11-02 03:05","o":0.84939,"h":0.84940,"l":0.84931,"c":0.84932},
{"t":"11-02 03:10","o":0.84932,"h":0.84949,"l":0.84931,"c":0.84948},
{"t":"11-02 03:15","o":0.84948,"h":0.84959,"l":0.84948,"c":0.84956},
{"t":"11-02 03:20","o":0.84956,"h":0.84959,"l":0.84945,"c":0.84952},
{"t":"11-02 03:25","o":0.84956,"h":0.84958,"l":0.84953,"c":0.84954},
{"t":"11-02 03:30","o":0.84954,"h":0.84954,"l":0.84945,"c":0.84952},
{"t":"11-02 03:35","o":0.84952,"h":0.84965,"l":0.84944,"c":0.84945},
{"t":"11-02 03:40","o":0.84945,"h":0.84947,"l":0.84945,"c":0.84945},
{"t":"11-02 03:45","o":0.84948,"h":0.84950,"l":0.84933,"c":0.84933},
{"t":"11-02 03:50","o":0.84931,"h":0.84956,"l":0.84930,"c":0.84956},
{"t":"11-02 03:55","o":0.84954,"h":0.84962,"l":0.84954,"c":0.84955},
{"t":"11-02 04:00","o":0.84954,"h":0.84957,"l":0.84946,"c":0.84950},
{"t":"11-02 04:05","o":0.84950,"h":0.84954,"l":0.84941,"c":0.84942},
{"t":"11-02 04:10","o":0.84943,"h":0.84952,"l":0.84938,"c":0.84948},
{"t":"11-02 04:15","o":0.84950,"h":0.84950,"l":0.84936,"c":0.84939},
{"t":"11-02 04:20","o":0.84941,"h":0.84943,"l":0.84937,"c":0.84941},
{"t":"11-02 04:25","o":0.84943,"h":0.84944,"l":0.84937,"c":0.84938},
{"t":"11-02 04:30","o":0.84938,"h":0.84956,"l":0.84937,"c":0.84954},
{"t":"11-02 04:35","o":0.84954,"h":0.84955,"l":0.84938,"c":0.84938},
{"t":"11-02 04:40","o":0.84943,"h":0.84959,"l":0.84937,"c":0.84948},
{"t":"11-02 04:45","o":0.84948,"h":0.84949,"l":0.84942,"c":0.84943},
{"t":"11-02 04:50","o":0.84945,"h":0.84948,"l":0.84934,"c":0.84940},
{"t":"11-02 04:55","o":0.84941,"h":0.84954,"l":0.84940,"c":0.84954},
{"t":"11-02 05:00","o":0.84954,"h":0.84956,"l":0.84942,"c":0.84942},
{"t":"11-02 05:05","o":0.84942,"h":0.84962,"l":0.84942,"c":0.84958},
{"t":"11-02 05:10","o":0.84957,"h":0.84960,"l":0.84952,"c":0.84952},
{"t":"11-02 05:15","o":0.84953,"h":0.84955,"l":0.84951,"c":0.84953},
{"t":"11-02 05:20","o":0.84952,"h":0.84953,"l":0.84949,"c":0.84950},
{"t":"11-02 05:25","o":0.84948,"h":0.84949,"l":0.84938,"c":0.84945},
{"t":"11-02 05:30","o":0.84945,"h":0.84954,"l":0.84944,"c":0.84947},
{"t":"11-02 05:35","o":0.84947,"h":0.84949,"l":0.84941,"c":0.84945},
{"t":"11-02 05:40","o":0.84945,"h":0.84946,"l":0.84940,"c":0.84945},
{"t":"11-02 05:45","o":0.84945,"h":0.84945,"l":0.84934,"c":0.84941},
{"t":"11-02 05:50","o":0.84941,"h":0.84942,"l":0.84925,"c":0.84926},
{"t":"11-02 05:55","o":0.84924,"h":0.84935,"l":0.84924,"c":0.84934},
{"t":"11-02 06:00","o":0.84935,"h":0.84940,"l":0.84930,"c":0.84939},
{"t":"11-02 06:05","o":0.84939,"h":0.84953,"l":0.84938,"c":0.84952},
{"t":"11-02 06:10","o":0.84952,"h":0.84956,"l":0.84951,"c":0.84954},
{"t":"11-02 06:15","o":0.84955,"h":0.84963,"l":0.84955,"c":0.84963},
{"t":"11-02 06:20","o":0.84961,"h":0.84964,"l":0.84955,"c":0.84963},
{"t":"11-02 06:25","o":0.84961,"h":0.84970,"l":0.84946,"c":0.84952},
{"t":"11-02 06:30","o":0.84952,"h":0.84990,"l":0.84938,"c":0.84990},
{"t":"11-02 06:35","o":0.84991,"h":0.84992,"l":0.84955,"c":0.84956},
{"t":"11-02 06:40","o":0.84961,"h":0.84985,"l":0.84960,"c":0.84980},
{"t":"11-02 06:45","o":0.84978,"h":0.84982,"l":0.84974,"c":0.84977},
{"t":"11-02 06:50","o":0.84976,"h":0.84982,"l":0.84973,"c":0.84974},
{"t":"11-02 06:55","o":0.84972,"h":0.84973,"l":0.84961,"c":0.84966},
{"t":"11-02 07:00","o":0.84967,"h":0.84987,"l":0.84966,"c":0.84981},
{"t":"11-02 07:05","o":0.84980,"h":0.84982,"l":0.84976,"c":0.84977},
{"t":"11-02 07:10","o":0.84978,"h":0.84986,"l":0.84977,"c":0.84985},
{"t":"11-02 07:15","o":0.84986,"h":0.84994,"l":0.84985,"c":0.84991},
{"t":"11-02 07:20","o":0.84991,"h":0.84993,"l":0.84985,"c":0.84991},
{"t":"11-02 07:25","o":0.84990,"h":0.84994,"l":0.84987,"c":0.84993},
{"t":"11-02 07:30","o":0.84991,"h":0.85004,"l":0.84991,"c":0.84991},
{"t":"11-02 07:35","o":0.84991,"h":0.85003,"l":0.84989,"c":0.84990},
{"t":"11-02 07:40","o":0.84990,"h":0.84991,"l":0.84982,"c":0.84990},
{"t":"11-02 07:45","o":0.84989,"h":0.84990,"l":0.84965,"c":0.84965},
{"t":"11-02 07:50","o":0.84965,"h":0.84965,"l":0.84954,"c":0.84958},
{"t":"11-02 07:55","o":0.84957,"h":0.84957,"l":0.84947,"c":0.84947},
{"t":"11-02 08:00","o":0.84946,"h":0.84959,"l":0.84942,"c":0.84958},
{"t":"11-02 08:05","o":0.84958,"h":0.84965,"l":0.84948,"c":0.84958},
{"t":"11-02 08:10","o":0.84958,"h":0.84962,"l":0.84954,"c":0.84960},
{"t":"11-02 08:15","o":0.84958,"h":0.84970,"l":0.84957,"c":0.84962},
{"t":"11-02 08:20","o":0.84962,"h":0.84970,"l":0.84956,"c":0.84967},
{"t":"11-02 08:25","o":0.84967,"h":0.84984,"l":0.84967,"c":0.84981},
{"t":"11-02 08:30","o":0.84980,"h":0.84984,"l":0.84967,"c":0.84971},
{"t":"11-02 08:35","o":0.84972,"h":0.84986,"l":0.84963,"c":0.84980},
{"t":"11-02 08:40","o":0.84978,"h":0.84979,"l":0.84972,"c":0.84972},
{"t":"11-02 08:45","o":0.84972,"h":0.84998,"l":0.84972,"c":0.84997},
{"t":"11-02 08:50","o":0.84996,"h":0.84998,"l":0.84989,"c":0.84993},
{"t":"11-02 08:55","o":0.84992,"h":0.84998,"l":0.84991,"c":0.84996}
],
"level": [{"t": "11-01 09:55", "p": 0.8476}],
"connector": [{"t1": "11-01 09:40", "t2": "11-01 09:55", "p": 0.8476}],
"pricebox": [{"t": "11-01 08:55", "p": 0.8476, "label": "0.84760"}],
"caption": [{"t": "11-01 00:25", "p": 0.84763, "label": "institucionální nabídka o středním objemu"}],
"ellipse": [{"t": "11-01 13:10", "p": 0.84776}],
"arrow": [
{"t1": "11-01 15:05", "p1": 0.84759, "t2": "11-01 16:05", "p2": 0.84654},
{"t1": "11-01 15:35", "p1": 0.84678, "t2": "11-01 16:05", "p2": 0.84654},
{"t1": "11-01 16:15", "p1": 0.84681, "t2": "11-01 16:05", "p2": 0.84654}
]
},
"layer": [
{"data": {"name": "candles"},
 "mark": {"type": "rule", "color": "black", "strokeWidth": 1, "xOffset": 0.5},
 "encoding": {
  "x": {"field": "t", "type": "ordinal", "title": null,
   "scale": {"type": "band", "range": [0, 1860], "paddingInner": 0, "paddingOuter": 0, "round": false},
   "axis": {"values": ["10-29 18:15","10-29 20:15","10-29 22:15","11-01 00:15","11-01 02:15","11-01 04:15","11-01 06:15","11-01 08:15","11-01 10:15","11-01 12:15","11-01 14:15","11-01 16:15","11-01 18:15","11-01 20:15","11-01 22:15","11-02 00:15","11-02 02:15","11-02 04:15","11-02 06:15","11-02 08:15"],
    "labelExpr": "datum.value == '10-29 18:15' ? '29 Oct 2021' : toNumber(substring(datum.value, 3, 5)) + (substring(datum.value, 0, 2) == '10' ? ' Oct ' : ' Nov ') + substring(datum.value, 6)",
    "bandPosition": 0.5, "domain": false, "labelAngle": 0, "labelAlign": "left", "labelBaseline": "top", "labelOffset": 1, "labelPadding": 1, "tickSize": 4, "tickColor": "black", "labelColor": "black", "labelFont": "Liberation Sans", "labelFontSize": 12.5, "labelOverlap": false, "labelBound": false, "labelFlush": false, "title": null, "grid": false}},
  "y": {"field": "l", "type": "quantitative", "title": null,
   "scale": {"domain": [0.843056, 0.850441], "nice": false, "zero": false},
   "axis": {"orient": "right", "values": [0.84325,0.8436,0.84395,0.8443,0.84465,0.845,0.84535,0.8457,0.84605,0.8464,0.84675,0.8471,0.84745,0.8478,0.84815,0.8485,0.84885,0.8492,0.84955,0.8499,0.85025], "format": ".5f", "tickSize": 4, "labelPadding": 5, "tickColor": "black", "domainColor": "black", "labelColor": "black", "labelFont": "Liberation Sans", "labelFontSize": 12.5, "labelOverlap": false, "labelBound": false, "labelFlush": false, "title": null, "grid": false}},
  "y2": {"field": "h", "title": null}}},
{"data": {"name": "candles"},
 "mark": {"type": "bar", "width": 2, "stroke": "black", "strokeWidth": 1, "xOffset": 0.5},
 "encoding": {
  "x": {"field": "t", "type": "ordinal", "title": null},
  "y": {"field": "o", "type": "quantitative", "title": null},
  "y2": {"field": "c", "title": null},
  "fill": {"condition": {"test": "datum.c >= datum.o", "value": "#3cb83c"}, "value": "#e41e1e"}}},
{"data": {"name": "level"},
 "mark": {"type": "rule", "color": "#ff0000", "strokeWidth": 3},
 "encoding": {"x": {"field": "t", "type": "ordinal", "title": null}, "x2": {"value": "width"}, "y": {"field": "p", "type": "quantitative", "title": null}}},
{"data": {"name": "connector"},
 "mark": {"type": "rule", "color": "#ff0000", "strokeWidth": 1},
 "encoding": {"x": {"field": "t1", "type": "ordinal", "title": null}, "x2": {"field": "t2", "title": null}, "y": {"field": "p", "type": "quantitative", "title": null}}},
{"data": {"name": "pricebox"},
 "mark": {"type": "point", "shape": "M-1,-0.327L1,-0.327L1,0.327L-1,0.327Z", "size": 5373, "filled": false, "stroke": "#ff0000", "strokeWidth": 1, "opacity": 1, "xOffset": 1},
 "encoding": {"x": {"field": "t", "type": "ordinal", "title": null}, "y": {"field": "p", "type": "quantitative", "title": null}}},
{"data": {"name": "pricebox"},
 "mark": {"type": "text", "color": "#ff0000", "font": "Liberation Sans", "fontSize": 19, "align": "center", "baseline": "middle", "xOffset": 1, "yOffset": 1},
 "encoding": {"x": {"field": "t", "type": "ordinal", "title": null}, "y": {"field": "p", "type": "quantitative", "title": null}, "text": {"field": "label"}}},
{"data": {"name": "caption"},
 "mark": {"type": "text", "color": "#ff0000", "font": "Liberation Sans", "fontSize": 16, "align": "left", "baseline": "alphabetic"},
 "encoding": {"x": {"field": "t", "type": "ordinal", "title": null}, "y": {"field": "p", "type": "quantitative", "title": null}, "text": {"field": "label"}}},
{"data": {"name": "ellipse"},
 "mark": {"type": "point", "shape": "M-1,0A1,0.644,0,1,0,1,0A1,0.644,0,1,0,-1,0Z", "size": 30276, "filled": false, "stroke": "black", "strokeWidth": 4.5, "opacity": 1},
 "encoding": {"x": {"field": "t", "type": "ordinal", "title": null}, "y": {"field": "p", "type": "quantitative", "title": null}}},
{"data": {"name": "arrow"},
 "mark": {"type": "rule", "color": "black", "strokeWidth": 5, "strokeCap": "round"},
 "encoding": {"x": {"field": "t1", "type": "ordinal", "title": null}, "x2": {"field": "t2", "title": null}, "y": {"field": "p1", "type": "quantitative", "title": null}, "y2": {"field": "p2", "title": null}}},
{"data": {"name": "candles"},
 "transform": [{"filter": "datum.t == '11-02 08:55'"}],
 "mark": {"type": "point", "shape": "M-1,-0.218L1,-0.218L1,0.218L-1,0.218Z", "size": 3025, "filled": true, "fill": "black", "strokeWidth": 0, "opacity": 1, "xOffset": 31.5},
 "encoding": {"x": {"value": "width"}, "y": {"field": "c", "type": "quantitative", "title": null}}},
{"data": {"name": "candles"},
 "transform": [{"filter": "datum.t == '11-02 08:55'"}],
 "mark": {"type": "text", "color": "white", "font": "Liberation Sans", "fontSize": 12.5, "align": "left", "baseline": "middle", "xOffset": 9},
 "encoding": {"x": {"value": "width"}, "y": {"field": "c", "type": "quantitative", "title": null}, "text": {"field": "c", "type": "quantitative", "format": ".5f"}}}
]
}
